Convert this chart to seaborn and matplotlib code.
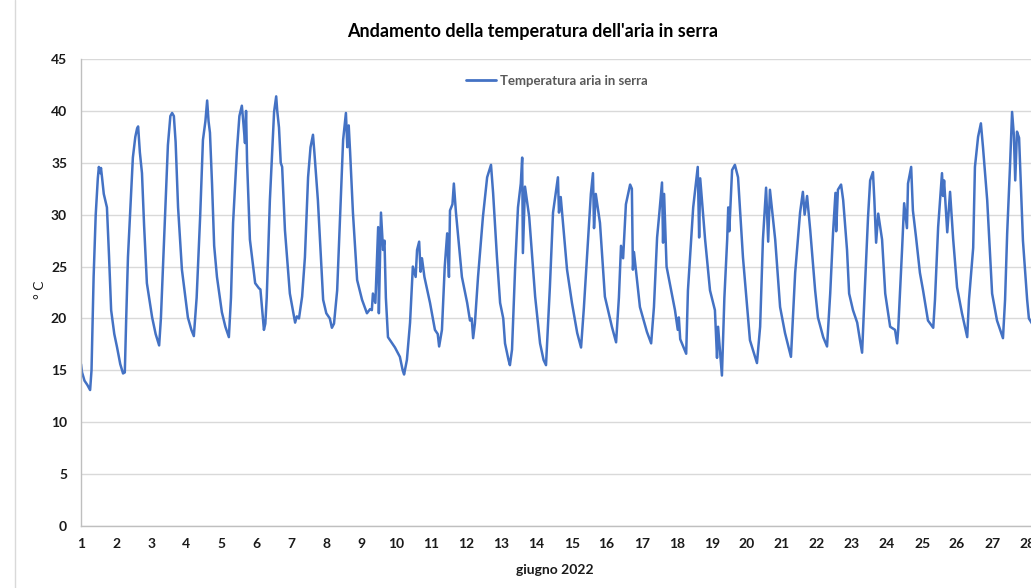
import matplotlib
matplotlib.use("Agg")
import matplotlib.pyplot as plt
import seaborn as sns
import pandas as pd
from matplotlib.lines import Line2D

# ---- data ----
giorno = [
    1.00, 1.03, 1.10, 1.18, 1.26, 1.30, 1.36, 1.42, 1.48, 1.51, 1.55, 1.57, 1.60, 1.65, 1.74, 1.80, 1.86, 1.95,
    2.03, 2.12, 2.20, 2.25, 2.29, 2.34, 2.40, 2.48, 2.55, 2.60, 2.63, 2.68, 2.74, 2.80, 2.88,
    3.03, 3.13, 3.23, 3.28, 3.34, 3.40, 3.48, 3.55, 3.60, 3.65, 3.70, 3.77, 3.88,
    4.05, 4.15, 4.22, 4.30, 4.40, 4.48, 4.55, 4.60, 4.64, 4.68, 4.74, 4.80, 4.88,
    5.02, 5.12, 5.22, 5.28, 5.34, 5.45, 5.52, 5.59, 5.63, 5.68, 5.71, 5.74, 5.82, 5.97,
    6.08, 6.12, 6.17, 6.22, 6.26, 6.30, 6.39, 6.51, 6.57, 6.60, 6.65, 6.70, 6.74, 6.82, 6.96,
    7.11, 7.16, 7.22, 7.31, 7.39, 7.48, 7.55, 7.62, 7.66, 7.76, 7.91,
    8.00, 8.10, 8.16, 8.22, 8.31, 8.39, 8.48, 8.56, 8.60, 8.64, 8.68, 8.76, 8.88,
    9.02, 9.16, 9.25, 9.30, 9.33, 9.40, 9.48, 9.50, 9.56, 9.62, 9.66, 9.70, 9.76, 9.96,
    10.10, 10.18, 10.22, 10.30, 10.39, 10.47, 10.55, 10.59, 10.65, 10.69, 10.73, 10.80, 10.96,
    11.10, 11.18, 11.22, 11.30, 11.38, 11.45, 11.50, 11.53, 11.60, 11.64, 11.70, 11.87,
    12.02, 12.10, 12.15, 12.19, 12.24, 12.33, 12.47, 12.59, 12.70, 12.76, 12.87, 12.96,
    13.05, 13.10, 13.20, 13.24, 13.30, 13.39, 13.47, 13.55, 13.59, 13.61, 13.67, 13.79, 13.96,
    14.10, 14.20, 14.27, 14.38, 14.47, 14.61, 14.64, 14.69, 14.87,
    15.01, 15.16, 15.27, 15.35, 15.44, 15.55, 15.61, 15.64, 15.69, 15.81, 15.95,
    16.15, 16.27, 16.35, 16.41, 16.47, 16.55, 16.67, 16.72, 16.75, 16.78, 16.95,
    17.15, 17.27, 17.35, 17.44, 17.50, 17.58, 17.61, 17.64, 17.71, 17.95,
    18.03, 18.06, 18.10, 18.27, 18.32, 18.47, 18.60, 18.64, 18.67, 18.81, 18.95,
    19.09, 19.15, 19.18, 19.29, 19.36, 19.44, 19.47, 19.50, 19.58, 19.66, 19.75, 19.89,
    20.09, 20.29, 20.38, 20.46, 20.55, 20.61, 20.66, 20.81, 20.95,
    21.09, 21.26, 21.38, 21.52, 21.60, 21.65, 21.72, 21.81, 21.95,
    22.03, 22.18, 22.29, 22.38, 22.46, 22.53, 22.55, 22.60, 22.69, 22.75, 22.86, 22.92,
    23.03, 23.15, 23.23, 23.29, 23.37, 23.46, 23.52, 23.60, 23.64, 23.69, 23.75, 23.86, 23.95,
    24.09, 24.23, 24.29, 24.32, 24.43, 24.49, 24.57, 24.60, 24.69, 24.74, 24.83, 24.94,
    25.03, 25.17, 25.32, 25.37, 25.46, 25.57, 25.60, 25.63, 25.72, 25.80, 25.89,
    26.00, 26.14, 26.29, 26.34, 26.46, 26.51, 26.60, 26.68, 26.74, 26.86,
    27.00, 27.14, 27.31, 27.37, 27.43, 27.51, 27.57, 27.62, 27.66, 27.71, 27.77, 27.88,
    28.00, 28.05, 28.14,
]
temperatura = [
    15.6, 14.8, 14.0, 13.6, 13.1, 15.0, 24.0, 30.0, 33.5, 34.6, 34.0, 34.5, 33.6, 32.0, 30.7, 26.0, 20.8, 18.5,
    17.2, 15.6, 14.7, 14.8, 20.0, 25.9, 30.0, 35.5, 37.5, 38.3, 38.5, 36.0, 34.0, 29.0, 23.4,
    20.1, 18.5, 17.4, 20.0, 25.0, 29.8, 36.7, 39.5, 39.8, 39.5, 37.0, 30.7, 24.7,
    20.1, 18.9, 18.3, 22.0, 29.8, 37.2, 39.0, 41.0, 39.0, 37.9, 32.9, 27.0, 24.0,
    20.6, 19.2, 18.2, 22.0, 29.2, 36.2, 39.5, 40.5, 39.0, 36.9, 40.0, 35.0, 27.6, 23.4,
    22.9, 22.8, 20.8, 18.9, 19.5, 22.0, 31.4, 39.9, 41.4, 40.0, 38.4, 35.0, 34.6, 28.5, 22.4,
    19.6, 20.2, 20.0, 22.1, 25.9, 33.6, 36.5, 37.7, 36.0, 31.4, 21.8,
    20.5, 20.0, 19.1, 19.5, 22.7, 29.5, 37.2, 39.8, 36.5, 38.6, 36.0, 30.2, 23.7,
    21.8, 20.5, 20.9, 20.8, 22.4, 21.5, 28.8, 20.5, 30.2, 26.6, 27.5, 22.0, 18.2, 17.2,
    16.3, 15.0, 14.6, 16.0, 19.6, 25.0, 24.0, 26.6, 27.4, 24.5, 25.8, 24.0, 21.5,
    18.9, 18.5, 17.3, 18.9, 25.0, 28.2, 24.0, 30.4, 31.0, 33.0, 30.2, 24.0,
    21.5, 19.8, 20.0, 18.1, 19.5, 24.0, 29.8, 33.6, 34.8, 32.1, 25.9, 21.5,
    20.0, 17.6, 16.0, 15.5, 17.0, 25.0, 30.7, 33.0, 35.5, 26.3, 32.7, 29.8, 22.1,
    17.6, 16.0, 15.5, 23.0, 30.2, 33.6, 30.2, 31.7, 24.7,
    21.5, 18.6, 17.2, 21.0, 25.9, 32.0, 34.0, 28.7, 32.0, 29.2, 22.1,
    19.2, 17.7, 22.0, 27.0, 25.8, 31.0, 32.9, 32.5, 24.7, 26.4, 21.1,
    18.7, 17.6, 21.1, 27.8, 30.0, 33.1, 27.3, 32.0, 25.0, 20.8,
    18.9, 20.1, 18.0, 16.6, 22.7, 30.7, 34.6, 27.8, 33.5, 27.6, 22.7,
    20.8, 16.2, 19.2, 14.5, 22.0, 27.6, 30.7, 28.4, 34.3, 34.8, 33.6, 25.9,
    17.9, 15.7, 19.2, 27.6, 32.6, 27.4, 32.4, 27.6, 21.1,
    18.6, 16.3, 24.4, 30.2, 32.2, 30.0, 31.8, 28.5, 22.7,
    20.1, 18.2, 17.3, 22.4, 28.2, 32.1, 28.4, 32.4, 32.9, 31.4, 26.6, 22.4,
    20.8, 19.6, 17.9, 16.7, 23.0, 29.8, 33.3, 34.1, 31.4, 27.3, 30.1, 27.6, 22.4,
    19.2, 18.9, 17.6, 18.9, 26.6, 31.1, 28.7, 33.0, 34.6, 30.4, 27.8, 24.4,
    22.7, 19.8, 19.1, 21.8, 28.8, 34.0, 31.8, 33.3, 28.3, 32.2, 27.6,
    23.0, 20.5, 18.2, 21.8, 26.8, 34.6, 37.5, 38.8, 36.5, 31.4,
    22.4, 19.8, 18.1, 21.8, 28.2, 34.6, 39.9, 37.7, 33.3, 38.0, 37.4, 27.5,
    21.8, 20.0, 19.5,
]
giorni_tick = list(range(1, 29))
y_tick = [0, 5, 10, 15, 20, 25, 30, 35, 40, 45]

titolo = "Andamento della temperatura dell'aria in serra"
serie = "Temperatura aria in serra"
x_label = "giugno 2022"
y_label = "° C"

df = pd.DataFrame({"giorno": giorno, "temperatura": temperatura, "serie": serie})

# ---- style ----
sns.set_style("white")
plt.rcParams["font.family"] = ["Lato", "DejaVu Sans"]

fig = plt.figure(figsize=(10.31, 5.88), dpi=100)
ax = fig.add_axes([81 / 1031, 1 - 526 / 588, 1 - 81 / 1031, (526 - 59) / 588])

sns.lineplot(data=df, x="giorno", y="temperatura", hue="serie", palette=["#4472C4"],
             sort=False, estimator=None, linewidth=1.8, ax=ax)

ax.set_xlim(1, 28.11)
ax.set_ylim(0, 45)
ax.set_xticks(giorni_tick)
ax.set_yticks(y_tick)
ax.set_xticklabels([str(t) for t in giorni_tick], fontsize=10, fontweight="bold", color="#1a1a1a")
ax.set_yticklabels([str(t) for t in y_tick], fontsize=10, fontweight="bold", color="#1a1a1a")
ax.tick_params(axis="both", length=0)
ax.tick_params(axis="x", pad=9)
ax.tick_params(axis="y", pad=10)
ax.grid(axis="y", color="#D9D9D9", linewidth=1.0)
ax.grid(axis="x", visible=False)
ax.set_axisbelow(True)
for s in ["top", "right"]:
    ax.spines[s].set_visible(False)
for s in ["left", "bottom"]:
    ax.spines[s].set_color("#BFBFBF")
    ax.spines[s].set_linewidth(1.0)

ax.set_xlabel("")
ax.set_ylabel("")
fig.text(555 / 1031, 1 - 570 / 588, x_label, ha="center", va="center",
         fontsize=10, fontweight="bold", color="#1a1a1a")
fig.text(40 / 1031, 1 - 290 / 588, y_label, ha="center", va="center", rotation=90,
         fontsize=10, color="#1a1a1a")
fig.text(533 / 1031, 1 - 31 / 588, titolo, ha="center", va="center",
         fontsize=13, fontweight="bold", color="#000000")

leg = ax.legend(loc="center", bbox_to_anchor=(557 / 1031 - 81 / 1031, 0), frameon=False,
                fontsize=9.5, handlelength=2.3, handletextpad=0.3)
leg.set_bbox_to_anchor(((557 - 81) / 950, (526 - 81) / 467), transform=ax.transAxes)
for t in leg.get_texts():
    t.set_color("#595959")
    t.set_fontweight("bold")
for h in leg.get_lines():
    h.set_linewidth(2.0)

# outer chart-area border on the left
fig.add_artist(Line2D([15 / 1031, 15 / 1031], [0, 1], transform=fig.transFigure,
                      color="#D9D9D9", linewidth=1.0))

fig.savefig("out.png", dpi=100, facecolor="white")
